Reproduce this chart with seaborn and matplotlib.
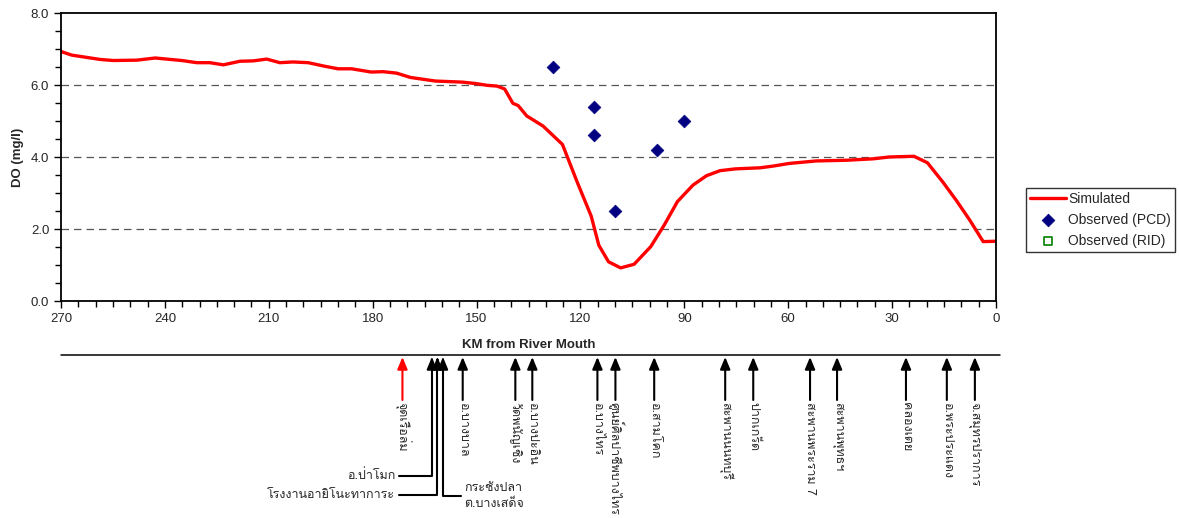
import matplotlib
matplotlib.use("Agg")
import matplotlib.pyplot as plt
import numpy as np
import pandas as pd
import seaborn as sns
from matplotlib import font_manager
from matplotlib.ft2font import FT2Font

# simulated DO profile (km from river mouth, mg/l)
sim_km = [270, 266.9, 258.7, 254.9, 248.1, 242.8, 235.1, 230.8, 227, 223.1,
          218.3, 214.5, 210.6, 206.8, 203, 198.6, 194.3, 190, 186.1, 180.4,
          177, 173.1, 169.1, 161.9, 154.1, 150.2, 146.9, 144.1, 141.9, 139.5,
          138.0, 135.5, 130.8, 125.2, 120.8, 116.9, 114.7, 111.9, 108.4, 104.5,
          99.7, 95.8, 92.0, 87.5, 83.6, 79.7, 75.3, 68.1, 64.2, 59.8,
          52.0, 43.1, 35.4, 30.9, 23.7, 19.8, 15.4, 11.5, 7.6, 3.7, 0]
sim_do = [6.93, 6.83, 6.71, 6.68, 6.69, 6.75, 6.68, 6.62, 6.62, 6.56,
          6.66, 6.67, 6.72, 6.62, 6.64, 6.62, 6.53, 6.45, 6.45, 6.36,
          6.37, 6.33, 6.21, 6.11, 6.08, 6.04, 5.99, 5.97, 5.89, 5.49,
          5.43, 5.14, 4.86, 4.35, 3.27, 2.36, 1.55, 1.09, 0.92, 1.02,
          1.51, 2.11, 2.76, 3.22, 3.48, 3.62, 3.67, 3.70, 3.75, 3.82,
          3.89, 3.91, 3.95, 4.00, 4.02, 3.84, 3.31, 2.80, 2.25, 1.65, 1.66]

# observed DO (PCD)
pcd_km = [128, 116, 116, 110, 98, 90]
pcd_do = [6.5, 5.4, 4.6, 2.5, 4.2, 5.0]

# observed DO (RID) - no samples in this period
rid_km = []
rid_do = []

# landmarks along the river
stations = ["จุดเรือล่ม", "อ.บางบาล", "วัดพนัญเชิง", "อ.บางปะอิน", "อ.บางไทร",
            "ศูนย์ศิลปาชีพบางไทร", "อ.สามโคก", "สะพานนนทบุรี", "ปากเกร็ด",
            "สะพานพระราม 7", "สะพานพุทธฯ", "คลองเตย", "อ.พระประแดง",
            "จ.สมุทรปราการ"]
station_km = [171.4, 154.0, 138.8, 133.9, 115.1, 109.9, 98.7, 78.2, 70.1,
              53.7, 45.9, 26.0, 14.2, 6.1]
# three landmarks too close together, labelled with leader lines
side_stations = ["อ.ป่าโมก", "โรงงานอายิโนะทาการะ", "กระชังปลา\nต.บางเสด็จ"]
side_km = [162.9, 161.3, 159.7]


def find_thai_font():
    for f in font_manager.fontManager.ttflist:
        try:
            if 0x0E01 in FT2Font(f.fname).get_charmap():
                return f.name
        except Exception:
            pass
    return "DejaVu Sans"


sns.set_theme(style="white")
thai = find_thai_font()
plt.rcParams["font.family"] = ["Liberation Sans", thai, "DejaVu Sans"]
plt.rcParams["axes.edgecolor"] = "black"
plt.rcParams["axes.linewidth"] = 1.3

W, H = 1179, 518
fig = plt.figure(figsize=(W / 100, H / 100), dpi=100)
ax = fig.add_axes([61 / W, (H - 301) / H, (996 - 61) / W, (301 - 13) / H])

sim = pd.DataFrame({"km": sim_km, "DO": sim_do})
pcd = pd.DataFrame({"km": pcd_km, "DO": pcd_do})
sns.lineplot(data=sim, x="km", y="DO", color="red", lw=2.4, sort=False,
             ax=ax, label="Simulated")
sns.scatterplot(data=pcd, x="km", y="DO", marker="D", color="#000080", s=42,
                edgecolor="#000080", ax=ax, label="Observed (PCD)", zorder=3)
ax.scatter(rid_km, rid_do, marker="s", facecolors="white", edgecolors="green",
           linewidths=1.2, s=34, label="Observed (RID)")

ax.set_xlim(270, 0)
ax.set_ylim(0, 8)
ax.set_xticks(np.arange(270, -1, -30))
ax.set_xticks(np.arange(270, -1, -5), minor=True)
ax.set_yticks(np.arange(0, 8.1, 2))
ax.set_yticks(np.arange(0, 8.1, 0.5), minor=True)
ax.yaxis.set_major_formatter(matplotlib.ticker.FormatStrFormatter("%.1f"))
ax.tick_params(which="both", direction="out", color="black", labelsize=9.5,
               left=True, bottom=True)
ax.tick_params(which="major", length=5, width=1)
ax.tick_params(which="minor", length=4, width=1)
for yv in [2, 4, 6]:
    ax.axhline(yv, color="#555555", lw=0.9, ls=(0, (6, 4)), zorder=0)
ax.set_xlabel("KM from River Mouth", fontsize=9.5, fontweight="bold", labelpad=10)
ax.set_ylabel("DO (mg/l)", fontsize=9.5, fontweight="bold", labelpad=5)
ax.legend_.remove()

handles, labels = ax.get_legend_handles_labels()
leg = fig.legend(handles, labels, loc="upper left",
                 bbox_to_anchor=(1026 / W, 1 - 188 / H), borderaxespad=0,
                 frameon=True, fancybox=False, edgecolor="black",
                 fontsize=10, handlelength=2.6, handletextpad=0.15,
                 labelspacing=0.5, borderpad=0.3)
leg.get_frame().set_linewidth(1)

# landmark panel below the chart
ax2 = fig.add_axes([61 / W, 0, (996 - 61) / W, (H - 340) / H])
ax2.set_xlim(270, 0)
ax2.set_ylim(H, 340)
ax2.axis("off")
ax2.plot([270, -1.2], [355, 355], color="black", lw=1.1, clip_on=False)

tfont = [thai, "DejaVu Sans"]
for name, km in zip(stations, station_km):
    col = "red" if name == "จุดเรือล่ม" else "black"
    ax2.annotate("", xy=(km, 357), xytext=(km, 400),
                 arrowprops=dict(arrowstyle="-|>,head_length=0.6,head_width=0.25",
                                 color=col, lw=1.5, shrinkA=0, shrinkB=0))
    ax2.text(km, 402, name, rotation=270, ha="center", va="top",
             fontsize=9, family=tfont)

# leader lines for the clustered landmarks
ends = [(476, 172.5), (495, 172.5), (496, 154.6)]
for name, km, (ly, lx) in zip(side_stations, side_km, ends):
    ax2.annotate("", xy=(km, 357), xytext=(km, 362),
                 arrowprops=dict(arrowstyle="-|>,head_length=0.6,head_width=0.25",
                                 color="black", lw=1.5, shrinkA=0, shrinkB=0))
    ax2.plot([km, km, lx], [360, ly, ly], color="black", lw=1.5)
    if lx > km:
        ax2.text(lx + 1, ly, name, ha="right", va="center", fontsize=9,
                 family=tfont)
    else:
        ax2.text(lx - 1, ly, name, ha="left", va="center", fontsize=9,
                 family=tfont, linespacing=1.4)

fig.savefig("out.png", dpi=100)
